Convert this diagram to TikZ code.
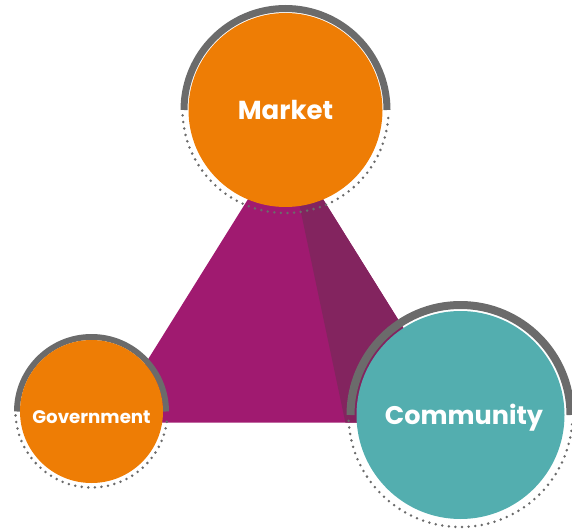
\documentclass[tikz,border=0pt]{standalone}
\usepackage{fontspec}
\newfontfamily\lblfont{Poppins}
\definecolor{morange}{HTML}{EE7D05}
\definecolor{mteal}{HTML}{53AEAF}
\definecolor{mmag}{HTML}{A01A70}
\definecolor{mdark}{HTML}{83245F}
\definecolor{mgray}{HTML}{6B6B6B}
\tikzset{
  blob/.style={circle, inner sep=0pt, text=white, font=\lblfont\bfseries},
  grayarc/.style={draw=mgray, line cap=butt},
  dotarc/.style={draw=mgray, line width=2.8pt, line cap=round, dash pattern=on 0pt off 6.6pt},
}
\begin{document}
\begin{tikzpicture}[x=1pt,y=1pt]
\useasboundingbox (0,0) rectangle (572,528);
\clip (0,0) rectangle (572,528);
% triangle
\coordinate (apex) at (285.5,389);
\coordinate (bl) at (108.5,105.3);
\coordinate (br) at (462.5,105.3);
\coordinate (bm) at (345.4,105.3);
\fill[mmag] (apex) -- (bl) -- (br) -- cycle;
\fill[mdark] (apex) -- (bm) -- (br) -- cycle;
% centres
\coordinate (mc) at (285.5,418);
\coordinate (gc) at (91.5,116.5);
\coordinate (cc) at (460.5,113);
% gray arcs
\draw[grayarc, line width=7pt] ([shift={(180:101.5)}]mc) arc[start angle=180, end angle=0, radius=101.5];
\draw[grayarc, line width=6pt] ([shift={(180:74.5)}]gc) arc[start angle=180, end angle=0, radius=74.5];
\draw[grayarc, line width=8pt] ([shift={(180:110)}]cc) arc[start angle=180, end angle=0, radius=110];
% dotted arcs
\draw[dotarc] ([shift={(183:103)}]mc) arc[start angle=183, end angle=357, radius=103];
\draw[dotarc] ([shift={(183:76)}]gc) arc[start angle=183, end angle=357, radius=76];
\draw[dotarc] ([shift={(183:112)}]cc) arc[start angle=183, end angle=357, radius=112];
% circles
\node[blob, fill=morange, minimum size=194pt, font=\lblfont\bfseries\fontsize{26}{30}\selectfont] (market) at (mc) {Market};
\node[blob, fill=morange, minimum size=143pt] (gov) at (gc) {};
\node[blob, fill=mteal, minimum size=208pt] (comm) at (cc) {};
\node[text=white, font=\lblfont\bfseries\fontsize{18.2}{22}\selectfont] (govlbl) at ([yshift=-5.5pt]gov.center) {Government};
\node[text=white, font=\lblfont\bfseries\fontsize{25.5}{30}\selectfont] (commlbl) at ([xshift=3.5pt,yshift=-3pt]comm.center) {Community};
\end{tikzpicture}
\end{document}
